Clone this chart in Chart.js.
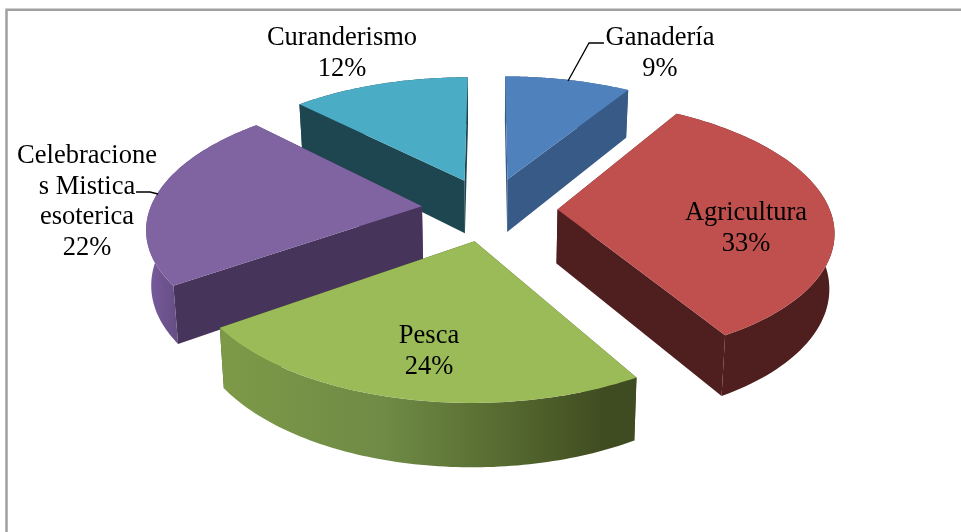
<!DOCTYPE html>
<html><head><meta charset="utf-8">
<style>html,body{margin:0;padding:0;background:#fff}#w{width:961px;height:532px}</style>
<script src="https://cdn.jsdelivr.net/npm/chart.js@4/dist/chart.umd.min.js"></script>
</head><body><div id="w"><canvas id="c" width="961" height="532"></canvas></div>
<script>
const categories = ['Ganadería','Agricultura','Pesca','Celebraciones Mistica esoterica','Curanderismo'];
const values = [8.8,32.8,23.6,22.4,12.4];
const topColors = ['#4F81BD','#C0504D','#9BBB59','#8064A2','#4BACC6'];
const wallColors = ['#375A86','#4E1F1E','#3F4C21','#46345A','#1E4650'];
const labelLines = [['Ganadería','9%'],['Agricultura','33%'],['Pesca','24%'],['Celebracione','s Mistica','esoterica','22%'],['Curanderismo','12%']];
const labelAnchors = [[660,45],[746,220],[429,343],[87,163],[342,45]];
const drawOrder = [4,0,3,1,2];

const persp = 0.15, yScale = 0.466, baseX = 0.985, baseDrop = 54, baseY = 0.491;

const pie3d = {
  id:'pie3d',
  beforeDatasetsDraw(chart){
    const ctx = chart.ctx, arcs = chart.getDatasetMeta(0).data;
    for(const i of drawOrder){
      const a = arcs[i], R = a.outerRadius, cx = a.x, cy = a.y;
      const off = a.options.offset/R, s = a.startAngle+Math.PI/2, e = a.endAngle+Math.PI/2, m=(s+e)/2;
      const ou = off*Math.sin(m), ov = off*Math.cos(m);
      const top = (u,v)=>{const w=1+persp*v; return [cx+R*u/w, cy-R*yScale*v/w];};
      const bot = (u,v)=>{const w=1+persp*v; return [cx+R*baseX*u/w, cy+baseDrop-R*baseY*v/w];};
      const rim=[]; const n=80;
      for(let k=0;k<=n;k++){const t=s+(e-s)*k/n; rim.push([ou+Math.sin(t),ov+Math.cos(t)]);}
      const apex=[ou,ov];
      const poly=(pts,fill)=>{ctx.beginPath();pts.forEach((p,j)=>j?ctx.lineTo(p[0],p[1]):ctx.moveTo(p[0],p[1]));ctx.closePath();ctx.fillStyle=fill;ctx.fill();};
      const first=rim[0], last=rim[n];
      poly([top(...apex),top(...first),bot(...first),bot(...apex)],wallColors[i]);
      poly([top(...apex),top(...last),bot(...last),bot(...apex)],wallColors[i]);
      let rimFill = wallColors[i];
      if(i===2){
        const x0=top(...last)[0], x1=top(...first)[0];
        const g=ctx.createLinearGradient(x0,0,x1,0);
        g.addColorStop(0,'#7D9A48');g.addColorStop(0.4,'#6F8A45');g.addColorStop(0.7,'#55682F');g.addColorStop(0.92,'#3F4C21');g.addColorStop(1,'#3F4C21');
        rimFill=g;
      } else if(i===3){
        const x0=top(...rim[n>>1])[0]-10, x1=x0+40;
        const g=ctx.createLinearGradient(x0,0,x1,0);
        g.addColorStop(0,'#7A5C9E');g.addColorStop(1,'#5F4A7C');
        rimFill=g;
      }
      poly(rim.map(p=>top(...p)).concat(rim.slice().reverse().map(p=>bot(...p))),rimFill);
      poly([top(...apex)].concat(rim.map(p=>top(...p))),a.options.backgroundColor);
    }
    return false;
  },
  afterDraw(chart){
    const ctx=chart.ctx;
    ctx.save();
    ctx.strokeStyle='#A0A0A0';ctx.lineWidth=2.5;
    ctx.beginPath();ctx.moveTo(6.5,532);ctx.lineTo(6.5,9.7);ctx.lineTo(961,9.7);ctx.stroke();
    ctx.strokeStyle='#000';ctx.lineWidth=1.3;
    ctx.beginPath();ctx.moveTo(604,43);ctx.lineTo(589,43);ctx.lineTo(568,81);ctx.stroke();
    ctx.beginPath();ctx.moveTo(136,192);ctx.lineTo(150,192);ctx.lineTo(158,194);ctx.stroke();
    ctx.fillStyle='#000';ctx.font='26.5px "Liberation Serif"';ctx.textAlign='center';ctx.textBaseline='alphabetic';
    labelLines.forEach((lines,i)=>{
      lines.forEach((t,j)=>ctx.fillText(t,labelAnchors[i][0],labelAnchors[i][1]+j*30.5));
    });
    ctx.restore();
  }
};

new Chart(document.getElementById('c'),{
  type:'pie',
  data:{labels:categories,datasets:[{data:values,backgroundColor:topColors,borderWidth:0,offset:68}]},
  options:{responsive:false,animation:false,radius:272,
    layout:{padding:{left:18,right:0,top:0,bottom:114}},
    plugins:{legend:{display:false},tooltip:{enabled:false},title:{display:false}}},
  plugins:[pie3d]
});
</script></body></html>
